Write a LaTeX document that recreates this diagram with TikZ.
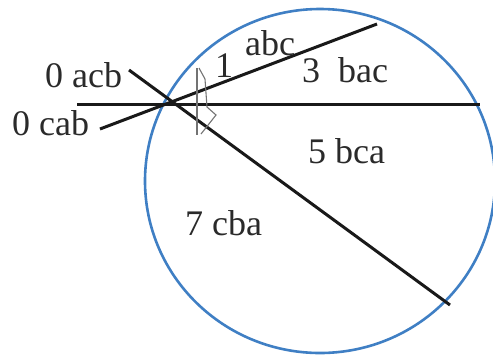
\documentclass[tikz,border=0pt]{standalone}
\usepackage{fontspec}
\setmainfont{Liberation Serif}
\definecolor{circblue}{HTML}{3F7FC4}
\definecolor{txtgray}{HTML}{2A2A2A}
\begin{document}
\begin{tikzpicture}[x=1pt,y=-1pt,
  lbl/.style={anchor=base west,inner sep=0pt,text=txtgray,font=\fontsize{36}{40}\selectfont},
  chord/.style={line width=3pt,black!90},
  rim/.style={line width=2.6pt,circblue},
  anglemark/.style={line width=1.1pt,black!55}]
\useasboundingbox (0,0) rectangle (493,360);
% circle
\draw[rim] (320,181) ellipse [x radius=175, y radius=172];
% line end points
\coordinate (h1) at (77,104);
\coordinate (h2) at (480,104);
\coordinate (c1) at (100,129);
\coordinate (c2) at (377,24);
\coordinate (a1) at (129,70);
\coordinate (a2) at (450,305);
\draw[chord] (h1) -- (h2);
\draw[chord] (c1) -- (c2);
\draw[chord] (a1) -- (a2);
% angle marks
\coordinate (m1) at (197,68);
\coordinate (m2) at (197,135);
\coordinate (m3) at (199,68);
\coordinate (m4) at (205,79);
\coordinate (m5) at (207,107);
\coordinate (m6) at (216,115);
\coordinate (m7) at (201,134);
\draw[anglemark] (m1) -- (m2);
\draw[anglemark] (m3) -- (m4) -- (m5) -- (m6) -- (m7);
% labels
\node[lbl] (lacb) at (45,87) {0 acb};
\node[lbl] (lcab) at (12,135) {0 cab};
\node[lbl] (lone) at (215,77) {1};
\node[lbl] (labc) at (245,55) {abc};
\node[lbl] (lbac) at (302,82) {3\ \ bac};
\node[lbl] (lbca) at (308,163) {5 bca};
\node[lbl] (lcba) at (185,235) {7 cba};
\end{tikzpicture}
\end{document}
